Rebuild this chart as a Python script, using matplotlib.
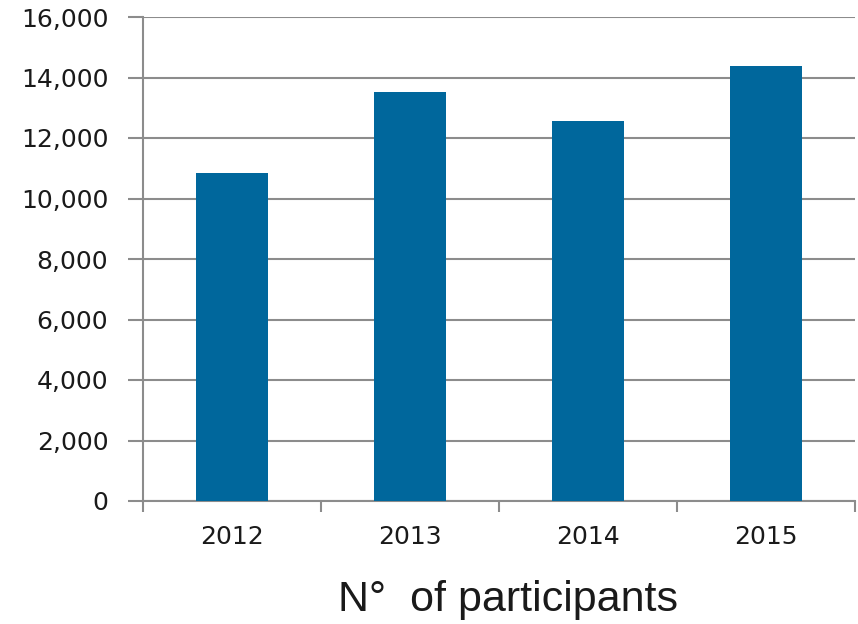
import matplotlib
matplotlib.use("Agg")
import matplotlib.pyplot as plt
from matplotlib.ticker import FuncFormatter

years = ["2012", "2013", "2014", "2015"]
participants = [10840, 13520, 12560, 14380]
yticks = [0, 2000, 4000, 6000, 8000, 10000, 12000, 14000, 16000]

fig = plt.figure(figsize=(8.58, 6.24), dpi=100)
ax = fig.add_axes([143/858, 1-501/624, (855-143)/858, (501-17)/624])

x = list(range(len(years)))
ax.bar(x, participants, width=0.40, color="#00679c", zorder=3)
ax.set_xlim(-0.5, len(years)-0.5)
ax.set_ylim(0, 16000)
ax.set_yticks(yticks)
ax.yaxis.set_major_formatter(FuncFormatter(lambda v, p: f"{int(v):,}"))
ax.set_xticks([i - 0.5 for i in range(len(years)+1)], minor=False)
ax.set_xticklabels([])
ax.set_xticks(x, minor=True)
ax.set_xticklabels(years, minor=True)
ax.tick_params(axis="x", which="minor", length=0, pad=17, labelsize=18, labelcolor="#1a1a1a")
ax.tick_params(axis="x", which="major", length=8, width=1.5, color="#8c8c8c")
ax.tick_params(axis="y", length=11, width=1.5, color="#8c8c8c", labelsize=18, labelcolor="#1a1a1a", pad=14)

ax.grid(axis="y", color="#8c8c8c", linewidth=1.5, zorder=0)
for s in ["top", "right"]:
    ax.spines[s].set_visible(False)
for s in ["left", "bottom"]:
    ax.spines[s].set_color("#8c8c8c")
    ax.spines[s].set_linewidth(1.5)

fig.text(508/858, 1-600/624, "N°  of participants", ha="center", va="center",
         fontsize=31, family="Liberation Sans", color="#1a1a1a")

fig.savefig("out.png", dpi=100)
